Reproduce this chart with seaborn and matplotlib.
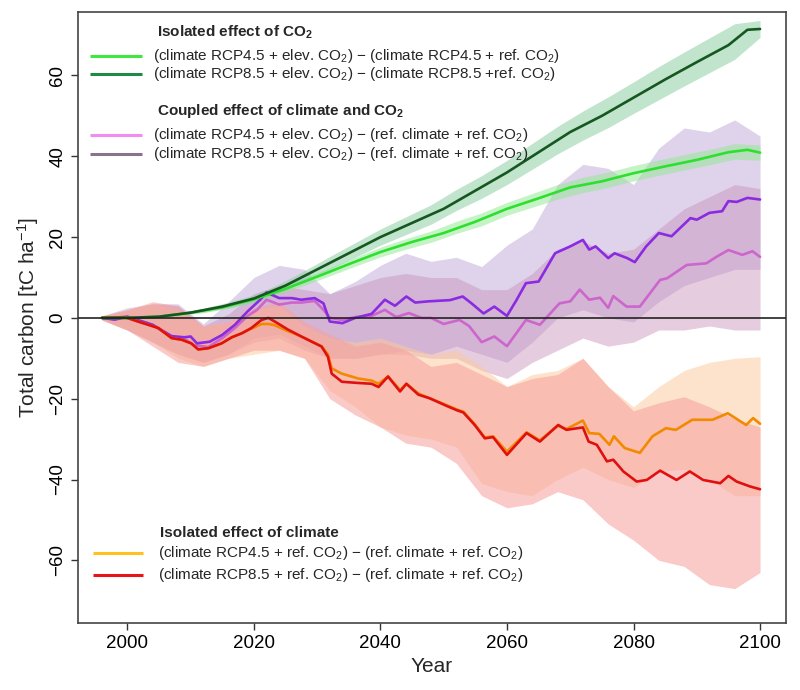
import numpy as np
import pandas as pd
import matplotlib
matplotlib.use("Agg")
import matplotlib.pyplot as plt
import seaborn as sns

# ---------------- data ----------------
band_years = [1996, 2000, 2004, 2008, 2012, 2016, 2020, 2024, 2028, 2032, 2036, 2040, 2044,
              2048, 2052, 2056, 2060, 2064, 2068, 2072, 2076, 2080, 2084, 2088, 2092, 2096, 2100]

# isolated effect of CO2
green45_years = [1996, 2000, 2005, 2010, 2015, 2020, 2025, 2030, 2035, 2040, 2045, 2050, 2055,
                 2060, 2065, 2070, 2075, 2080, 2085, 2090, 2095, 2098, 2100]
green45_vals = [0, 0, 0.3, 1.3, 2.6, 4.6, 7.2, 10.2, 13.3, 16.3, 18.8, 21.0, 23.8,
                27.0, 29.6, 32.3, 33.8, 35.8, 37.5, 39.1, 41.0, 41.6, 40.9]
green85_years = [1996, 2000, 2005, 2010, 2015, 2020, 2025, 2030, 2035, 2040, 2045, 2050, 2055,
                 2060, 2065, 2070, 2075, 2080, 2085, 2090, 2095, 2098, 2100]
green85_vals = [0, 0, 0.3, 1.3, 2.8, 4.8, 8.0, 12.0, 16.0, 20.0, 23.5, 27.0, 31.5,
                36.0, 41.0, 46.0, 50.0, 54.5, 59.0, 63.3, 67.5, 71.3, 71.5]
green45_lo = [0, 0, 0, 0.6, 1.3, 2.4, 3.9, 5.9, 8.1, 10.4, 12.8, 15.1, 17.0,
              18.7, 20.9, 22.8, 25.4, 27.4, 29.4, 31.0, 32.3, 33.9, 35.3, 36.6, 37.9, 39.3, 39.0]
green45_hi = [0, 0, 0.4, 1.2, 2.3, 3.6, 5.3, 7.5, 9.9, 12.4, 15.0, 17.5, 19.6,
              21.5, 23.9, 26.0, 28.6, 30.8, 33.0, 34.8, 36.1, 37.7, 39.1, 40.4, 41.7, 43.1, 42.8]
green85_lo = [0, 0, 0, 0.6, 1.4, 2.5, 3.9, 6.2, 9.1, 12.0, 15.0, 18.0, 20.6,
              23.2, 26.6, 29.6, 33.0, 36.8, 40.6, 44.0, 47.1, 50.6, 54.0, 57.4, 60.7, 64.0, 69.4]
green85_hi = [0, 0, 0.4, 1.2, 2.4, 3.9, 5.7, 8.4, 11.7, 15.2, 18.6, 22.0, 25.0,
              28.0, 31.8, 35.2, 39.0, 43.2, 47.4, 51.2, 54.7, 58.4, 62.2, 65.8, 69.3, 72.8, 73.6]

# coupled effect of climate and CO2
pink_years = [1996, 1998, 2000, 2002, 2004, 2007, 2009, 2010.6, 2012.8, 2015, 2017, 2019,
              2020.5, 2022, 2024, 2026, 2027.5, 2029.6, 2031, 2032, 2034, 2036, 2038.6,
              2040.7, 2042.5, 2044.5, 2046.5, 2048, 2050, 2052.5, 2054, 2056, 2058, 2060,
              2063, 2065.2, 2068.3, 2070, 2071.5, 2073, 2074.7, 2076, 2076.8, 2078.9, 2081,
              2084.2, 2085.3, 2088.4, 2091.5, 2093.2, 2095, 2097.2, 2098.8, 2100]
pink_vals = [0, -0.4, 0.3, -0.7, -1.8, -4.8, -5.2, -6.8, -7.2, -5.0, -2.5, 0.5,
             2.0, 4.5, 3.3, 3.8, 3.8, 4.2, 2.0, 0.0, -0.5, 0.2, 0.5,
             2.0, 0.2, 1.2, 0.0, 0.0, -1.5, -0.5, -2.0, -6.0, -4.6, -7.0,
             -0.5, -1.7, 3.6, 4.1, 7.0, 4.5, 5.0, 2.5, 5.4, 2.8, 2.8,
             9.4, 9.8, 13.1, 13.5, 15.2, 16.8, 15.6, 16.5, 15.1]
purple_years = [1996, 1998, 2000, 2002, 2004, 2007, 2009, 2010, 2011, 2013, 2015, 2017, 2019,
                2021, 2022, 2024, 2026, 2027.5, 2029.6, 2031, 2032, 2034, 2036, 2038.6, 2040.7,
                2042.3, 2044.1, 2045.5, 2047.6, 2051, 2053, 2054.4, 2056.3, 2058, 2060, 2061.5,
                2063, 2065, 2067.6, 2070, 2072, 2073, 2074, 2076, 2077, 2079, 2080.2, 2082,
                2084, 2086, 2089, 2090, 2092, 2094, 2095, 2096.3, 2098, 2100]
purple_vals = [0, -0.4, 0.3, -0.7, -1.7, -4.5, -4.8, -4.6, -6.3, -5.9, -4.2, -1.7, 1.6,
               4.5, 6.3, 4.9, 4.9, 4.5, 4.9, 3.6, -0.9, -1.3, 0.0, 1.0, 4.5,
               3.0, 5.3, 3.8, 4.1, 4.4, 5.3, 3.6, 1.1, 2.8, 0.5, 4.4,
               8.6, 9.0, 16.0, 17.7, 19.3, 16.9, 17.7, 14.8, 16.0, 14.8, 13.8, 17.7,
               21.0, 20.2, 24.7, 24.3, 26.0, 26.4, 28.9, 28.7, 29.7, 29.3]
pink_lo = [-0.5, -3, -6, -9, -11, -9, -6, -5, -8, -10, -10, -9, -9,
           -10, -10, -13, -15, -11, -8, -5, -7, -6, -3, -3, -2, -3, -3]
pink_hi = [0.5, 2, 3.5, 3, -2, 1, 6, 8, 7, 6, 8, 10, 11,
           10, 10, 7, 7, 11, 17, 19, 16, 17, 22, 27, 30, 33, 32]
purple_lo = [-0.5, -3, -6, -9, -11, -9, -5, -4, -7, -10, -10, -9, -8,
             -9, -7, -9, -11, -6, 0, 2, 0, -1, 4, 8, 10, 12, 12]
purple_hi = [0.5, 2.5, 3.5, 3.5, -1.5, 4, 10, 13, 12, 6, 9, 13, 16,
             14, 15, 12.7, 18, 22, 33, 38, 37, 33, 42, 47, 46, 49, 45]

# isolated effect of climate
orange_years = [1996, 1999.6, 2001.7, 2004.9, 2007, 2008.6, 2010.1, 2011.2, 2012.8, 2014.9,
                2016.5, 2018.1, 2019.6, 2021.2, 2022.3, 2023.3, 2025.4, 2027.5, 2030.7, 2031.7,
                2032.3, 2033.9, 2036.5, 2038.6, 2039.7, 2041.2, 2043.1, 2044.1, 2046, 2047.8,
                2050.5, 2052, 2053.1, 2054.9, 2056.5, 2057.8, 2060, 2063.1, 2065.2, 2068,
                2069.4, 2072, 2073, 2074.6, 2076.2, 2076.9, 2078.6, 2081, 2083, 2085.1,
                2086.7, 2089.3, 2092.5, 2094.9, 2097.8, 2098.9, 2100]
orange_vals = [0, 0.2, -0.9, -2.5, -5.0, -5.4, -6.3, -7.8, -7.5, -6.3,
               -4.8, -3.8, -2.7, -1.5, -1.5, -1.8, -3.3, -4.6, -7.0, -9.0,
               -12.5, -13.8, -15.0, -15.5, -16.3, -14.5, -17.8, -16.3, -18.7, -19.9,
               -21.6, -22.6, -23.2, -26.3, -29.6, -29.3, -33.1, -28.3, -30.3, -26.7,
               -27.5, -25.4, -28.5, -28.7, -31.4, -29.3, -32.2, -33.4, -29.3, -27.3,
               -27.7, -25.2, -25.2, -23.6, -26.5, -24.8, -26.2]
red_years = [1996, 1999.6, 2001.7, 2004.9, 2007, 2008.6, 2010.1, 2011.2, 2012.8, 2014.9,
             2016.5, 2018.1, 2019.6, 2021.2, 2022.3, 2023.3, 2025.4, 2027.5, 2030.7, 2031.7,
             2032.3, 2033.9, 2036.5, 2038.6, 2039.7, 2041.2, 2043.1, 2044.1, 2046, 2047.8,
             2050.5, 2052, 2053.1, 2054.9, 2056.5, 2057.8, 2060, 2063.1, 2065.2, 2068.1,
             2069.4, 2072, 2072.9, 2074.2, 2075.8, 2076.8, 2078.4, 2080.5, 2082.1, 2084.2,
             2086.8, 2088.9, 2091, 2093.7, 2095, 2096.3, 2098.4, 2100]
red_vals = [0, 0.2, -0.9, -2.5, -5.0, -5.4, -6.3, -7.8, -7.5, -6.3,
            -4.8, -3.8, -2.5, -0.5, 0.0, -0.9, -2.9, -4.6, -7.1, -9.6,
            -13.8, -15.8, -16.1, -16.3, -17.1, -14.5, -18.2, -16.3, -19.0, -19.9,
            -21.8, -22.8, -23.4, -26.5, -29.8, -29.5, -33.9, -28.5, -30.6, -26.5,
            -27.7, -27.1, -30.6, -31.4, -35.5, -35.1, -38.0, -40.5, -40.1, -37.8,
            -40.1, -38.0, -40.1, -40.9, -39.1, -40.5, -41.7, -42.4]
orange_lo = [-0.5, -3, -6, -10, -12, -10, -9, -8, -10, -18, -22, -27, -29,
             -30, -32, -41, -43, -44, -40, -37, -40, -42, -38, -37.5, -40, -44, -44]
orange_hi = [0.5, 2, 3.5, 2, -2, -1, 2, 3, -2, -5, -6, -5, -7,
             -9, -8, -12, -17, -14, -13, -10, -17, -22, -17, -13, -11, -10, -9.6]
red_lo = [-0.5, -3, -7, -11, -12, -10, -8, -8, -10, -20, -24, -27, -31,
          -32, -36, -44, -47, -46, -43, -45, -51, -55, -60, -61.5, -66, -67, -63]
red_hi = [0.5, 2, 4, 3, -2, -1, 2.5, 4, -1, -4, -7, -6, -8,
          -12, -11, -14, -17, -15, -14, -10, -17, -23, -21, -19.5, -22, -25, -27]

x_ticks = [2000, 2020, 2040, 2060, 2080, 2100]
y_ticks = [-60, -40, -20, 0, 20, 40, 60]

# ---------------- style ----------------
sns.set_theme(style="ticks")
plt.rcParams["font.family"] = ["Liberation Sans", "DejaVu Sans"]
plt.rcParams["mathtext.fontset"] = "custom"
plt.rcParams["mathtext.rm"] = "Liberation Sans"
plt.rcParams["mathtext.it"] = "Liberation Sans:italic"
plt.rcParams["mathtext.bf"] = "Liberation Sans:bold"

fig = plt.figure(figsize=(8, 6.9), dpi=100)
ax = fig.add_axes([0.0975, 0.0971, 0.885, 0.8855])

# bands
bands = [
    (purple_lo, purple_hi, "#c3b0db", 0.55),
    (pink_lo, pink_hi, "#c98fba", 0.45),
    (orange_lo, orange_hi, "#fcc99a", 0.5),
    (red_lo, red_hi, "#f7a09c", 0.55),
    (green45_lo, green45_hi, "#8fe88f", 0.5),
    (green85_lo, green85_hi, "#8fcfa5", 0.55),
]
for lo, hi, c, a in bands:
    ax.fill_between(band_years, lo, hi, color=c, alpha=a, linewidth=0)

# lines
series = [
    ("pink", pink_years, pink_vals, "#cc66cc"),
    ("purple", purple_years, purple_vals, "#8a2be2"),
    ("orange", orange_years, orange_vals, "#f28a00"),
    ("red", red_years, red_vals, "#e01010"),
    ("green45", green45_years, green45_vals, "#2ee02e"),
    ("green85", green85_years, green85_vals, "#15571f"),
]
frames = []
for name, yrs, vals, _ in series:
    frames.append(pd.DataFrame({"year": yrs, "value": vals, "series": name}))
df = pd.concat(frames, ignore_index=True)
palette = {name: c for name, _, _, c in series}
sns.lineplot(data=df, x="year", y="value", hue="series", palette=palette,
             hue_order=[s[0] for s in series], estimator=None, sort=False,
             linewidth=1.9, legend=False, ax=ax)

ax.axhline(0, color="#222222", linewidth=1.2, zorder=5)

ax.set_xlim(1992.2, 2104.1)
ax.set_ylim(-75.5, 75.7)
ax.set_xticks(x_ticks)
ax.set_yticks(y_ticks)
ax.tick_params(axis="both", direction="out", length=5, width=1, colors="#333333",
               labelsize=13.5, labelcolor="black")
for lab in ax.get_yticklabels():
    lab.set_rotation(90)
    lab.set_va("center")
for sp in ax.spines.values():
    sp.set_visible(True)
    sp.set_color("#444444")
    sp.set_linewidth(1.2)

ax.set_xlabel("Year", fontsize=15, labelpad=4)
ax.set_ylabel("Total carbon [tC ha$^{-1}$]", fontsize=15, labelpad=6)

# legend (manual, R-style)
def key(y, x0, x1, color):
    ax.plot([x0, x1], [y, y], transform=ax.transAxes, color=color, lw=2.2,
            solid_capstyle="butt", clip_on=False)

fs = 11
ax.text(0.112, 0.966, r"Isolated effect of CO$_\mathbf{2}$", transform=ax.transAxes,
        fontsize=fs, fontweight="bold", va="center")
key(0.928, 0.017, 0.090, "#3ee83e")
ax.text(0.106, 0.928, "(climate RCP4.5 + elev. CO$_2$) − (climate RCP4.5 + ref. CO$_2$)",
        transform=ax.transAxes, fontsize=fs, va="center")
key(0.8985, 0.017, 0.090, "#1f8a45")
ax.text(0.106, 0.8985, "(climate RCP8.5 + elev. CO$_2$) − (climate RCP8.5 +ref. CO$_2$)",
        transform=ax.transAxes, fontsize=fs, va="center")

ax.text(0.112, 0.838, r"Coupled effect of climate and CO$_\mathbf{2}$", transform=ax.transAxes,
        fontsize=fs, fontweight="bold", va="center")
key(0.7987, 0.017, 0.090, "#f28cf0")
ax.text(0.106, 0.7987, "(climate RCP4.5 + elev. CO$_2$) − (ref. climate + ref. CO$_2$)",
        transform=ax.transAxes, fontsize=fs, va="center")
key(0.7676, 0.017, 0.090, "#8c7090")
ax.text(0.106, 0.7676, "(climate RCP8.5 + elev. CO$_2$) − (ref. climate + ref. CO$_2$)",
        transform=ax.transAxes, fontsize=fs, va="center")

ax.text(0.116, 0.1473, "Isolated effect of climate", transform=ax.transAxes,
        fontsize=fs, fontweight="bold", va="center")
key(0.1146, 0.021, 0.092, "#ffc020")
ax.text(0.113, 0.1146, "(climate RCP4.5 + ref. CO$_2$) − (ref. climate + ref. CO$_2$)",
        transform=ax.transAxes, fontsize=fs, va="center")
key(0.0785, 0.021, 0.092, "#e8141c")
ax.text(0.113, 0.0785, "(climate RCP8.5 + ref. CO$_2$) − (ref. climate + ref. CO$_2$)",
        transform=ax.transAxes, fontsize=fs, va="center")

fig.savefig("out.png", dpi=100, facecolor="white")
